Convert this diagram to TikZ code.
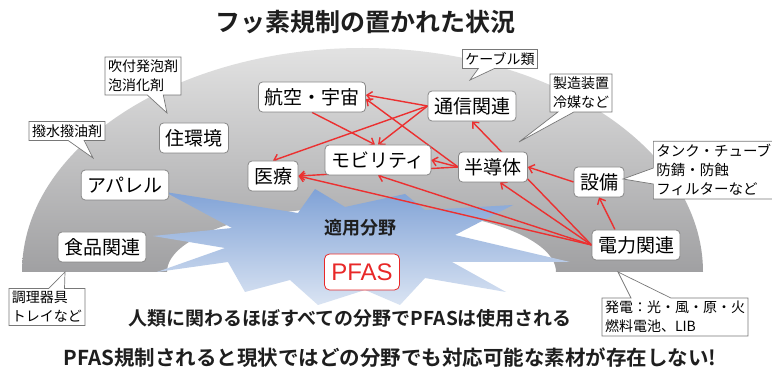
\documentclass[tikz,border=0pt]{standalone}
\usepackage{fontspec}
\setmainfont{Noto Sans CJK JP}[BoldFont={Noto Sans CJK JP Bold}]
\newfontfamily\pfasfont{Liberation Sans}
\usetikzlibrary{arrows.meta,shapes.callouts,calc}
\definecolor{arrred}{RGB}{236,48,48}
\definecolor{boxgray}{RGB}{135,135,135}
\definecolor{notegray}{RGB}{120,120,120}
\definecolor{domeTop}{RGB}{226,226,226}
\definecolor{domeBot}{RGB}{160,160,162}
\definecolor{starTop}{RGB}{128,162,214}
\definecolor{starBot}{RGB}{218,228,243}
\definecolor{pfasred}{RGB}{232,40,40}
\definecolor{txtdark}{RGB}{30,30,30}
\pgfdeclarelayer{back}
\pgfdeclarelayer{mid}
\pgfsetlayers{back,mid,main}
\begin{document}
\begin{tikzpicture}[x=1pt,y=1pt,
  field/.style={draw=boxgray, line width=0.8pt, fill=white, rounded corners=4pt,
    font=\fontsize{19}{22}\selectfont, inner xsep=6pt, inner ysep=3pt, minimum height=30pt},
  note/.style={rectangle callout, draw=notegray, line width=0.7pt, fill=white,
    font=\fontsize{14}{19}\selectfont, align=left, inner xsep=3pt, inner ysep=3pt,
    callout pointer width=16pt},
  arr/.style={draw=arrred, line width=1.4pt, -{Straight Barb[length=5pt,width=9pt]}},
  heading/.style={font=\bfseries\fontsize{25}{30}\selectfont, text=txtdark},
  bigline/.style={font=\bfseries\fontsize{19}{23}\selectfont, text=txtdark}]
\useasboundingbox (0,0) rectangle (772,-374);

% background dome and starburst
\begin{pgfonlayer}{back}
\fill[white] (0,0) rectangle (772,-374);
\shade[top color=domeTop, bottom color=domeBot]
  (22,-272) arc[start angle=180, end angle=0, x radius=340.5, y radius=224]
  -- (556,-272) arc[start angle=0, end angle=180, x radius=194.5, y radius=65] -- cycle;
\shade[top color=starTop, bottom color=starBot]
  (153,-236) -- (232,-228) -- (165,-192) -- (298,-213) -- (315,-189) -- (345,-207)
  -- (405,-194) -- (425,-210) -- (513,-205) -- (455,-235) -- (570,-262) -- (452,-262)
  -- (506,-292) -- (425,-278) -- (400,-305) -- (365,-290) -- (318,-305) -- (290,-280)
  -- (245,-292) -- (228,-262) -- (157,-272) -- (225,-248) -- cycle;
\end{pgfonlayer}

% title and texts
\node[heading] (title) at (365,-22) {フッ素規制の置かれた状況};
\node[font=\bfseries\fontsize{18}{22}\selectfont, text=txtdark] (apply) at (360,-228) {適用分野};
\node[draw=pfasred, line width=0.8pt, fill=white, rounded corners=5pt, text=pfasred,
  font=\pfasfont\fontsize{24}{26}\selectfont, minimum width=75pt, minimum height=36pt] (pfas) at (362,-272) {PFAS};
\node[bigline] (used) at (350,-318) {人類に関わるほぼすべての分野でPFASは使用される};
\node[bigline, font=\bfseries\fontsize{20.5}{24}\selectfont] (none) at (390,-358) {PFAS規制されると現状ではどの分野でも対応可能な素材が存在しない!};

% field nodes
\node[field] (jyu) at (194,-138) {住環境};
\node[field] (apa) at (125,-185) {アパレル};
\node[field] (sho) at (102,-247) {食品関連};
\node[field] (kou) at (312,-97) {航空・宇宙};
\node[field] (iry) at (273,-176) {医療};
\node[field] (mob) at (378,-160) {モビリティ};
\node[field] (tsu) at (472,-106) {通信関連};
\node[field] (han) at (493,-167) {半導体};
\node[field] (set) at (599,-182) {設備};
\node[field] (den) at (636,-245) {電力関連};

% callouts
\node[note, callout absolute pointer={(167,-113)}] (n1) at (143,-76) {吹付発泡剤\\泡消化剤};
\node[note, callout absolute pointer={(93,-158)}] (n2) at (67,-131) {撥水撥油剤};
\node[note, callout absolute pointer={(470,-80)}] (n3) at (500,-59) {ケーブル類};
\node[note, callout absolute pointer={(519,-142)}] (n4) at (581,-93) {製造装置\\冷媒など};
\node[note, anchor=north west, callout absolute pointer={(623,-179)}, font=\fontsize{14.5}{19}\selectfont] (n5) at (653,-141) {タンク・チューブ\\防錆・防蝕\\フィルターなど\hspace{20pt}};
\node[note, callout absolute pointer={(65,-272)}] (n6) at (47,-307) {調理器具\\トレイなど};
\node[note, callout absolute pointer={(618,-272)}, callout pointer width=40pt] (n7) at (675,-317) {発電：光・風・原・火\\燃料電池、LIB};

% arrows
\begin{pgfonlayer}{mid}
\draw[arr] (tsu.west) -- ([yshift=2pt]kou.east);
\draw[arr] (tsu.west) -- (mob.north);
\draw[arr] (tsu.west) -- (iry.north);
\draw[arr] (kou.south) -- ([xshift=-3pt]mob.north);
\draw[arr] (han.west) -- ([yshift=-2pt]kou.east);
\draw[arr] (han.west) -- (mob.east);
\draw[arr] (han.west) -- (iry.east);
\draw[arr] (den.west) -- (iry.east);
\draw[arr] (den.west) -- (mob.south);
\draw[arr] (den.west) -- ([xshift=7pt]han.south);
\draw[arr] (den.west) -- (tsu.south);
\draw[arr] (set.west) -- (han.east);
\draw[arr] ($(den.north)+(-21pt,0)$) -- (set.south);
\end{pgfonlayer}
\end{tikzpicture}
\end{document}
